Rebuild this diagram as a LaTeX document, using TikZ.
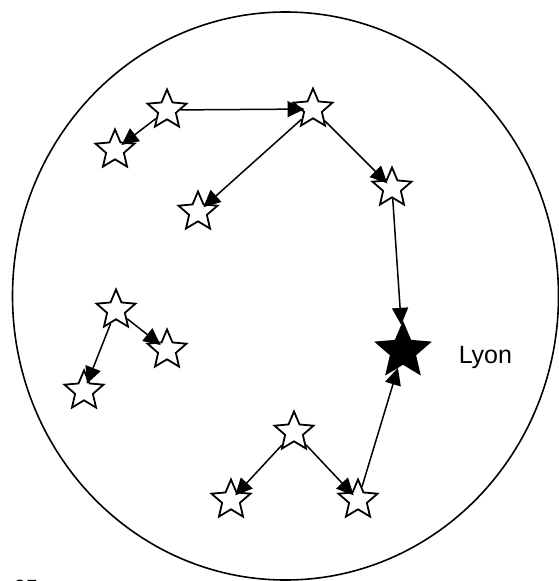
\documentclass[tikz,border=0pt]{standalone}
\usepackage{fontspec}
\setmainfont{Liberation Sans}
\usetikzlibrary{shapes.geometric,arrows.meta}

\begin{document}
\begin{tikzpicture}[x=1pt,y=-1pt,line width=1.5pt,>={Triangle[length=17pt,width=16pt]}]
	\tikzstyle{etoile}=[star,star points=5,star point ratio=2.2,draw,line width=1.8pt,fill=white,inner sep=0pt,minimum size=41pt];
	\tikzstyle{ville}=[etoile,fill=black,minimum size=56pt];
	\tikzstyle{fleche}=[->,shorten >=-5pt];
	\useasboundingbox (0,0) rectangle (559,581);
	\draw[line width=1.6pt] (285.5,296) ellipse (273 and 284);
	% constellation du haut
	\node[etoile] (a) at (167,110) {};
	\node[etoile] (b) at (115,150) {};
	\node[etoile] (c) at (313,109) {};
	\node[etoile] (d) at (198,212) {};
	\node[etoile] (e) at (392,188) {};
	% a gauche
	\node[etoile] (f) at (116,310) {};
	\node[etoile] (g) at (167,350) {};
	\node[etoile] (h) at (84,391) {};
	% en bas
	\node[etoile] (i) at (294,432) {};
	\node[etoile] (j) at (231,500) {};
	\node[etoile] (k) at (358,500) {};
	\node[ville] (lyon) at (403,351) {};
	\node[anchor=base west,inner sep=0pt,font=\fontsize{25}{30}\selectfont] (nom) at (458,363) {Lyon};
	\node[anchor=north west,inner sep=0pt,font=\fontsize{22}{26}\selectfont] (num) at (13,579) {95};
	\draw[fleche] (a) -- (b);
	\draw[fleche] (a) -- (c);
	\draw[fleche] (c) -- (d);
	\draw[fleche] (c) -- (e);
	\draw[fleche,shorten >=0pt] (e) -- (lyon);
	\draw[fleche] (f) -- (g);
	\draw[fleche] (f) -- (h);
	\draw[fleche] (i) -- (j);
	\draw[fleche] (i) -- (k);
	\draw[fleche,shorten >=0pt] (k) -- (lyon);
\end{tikzpicture}
\end{document}
